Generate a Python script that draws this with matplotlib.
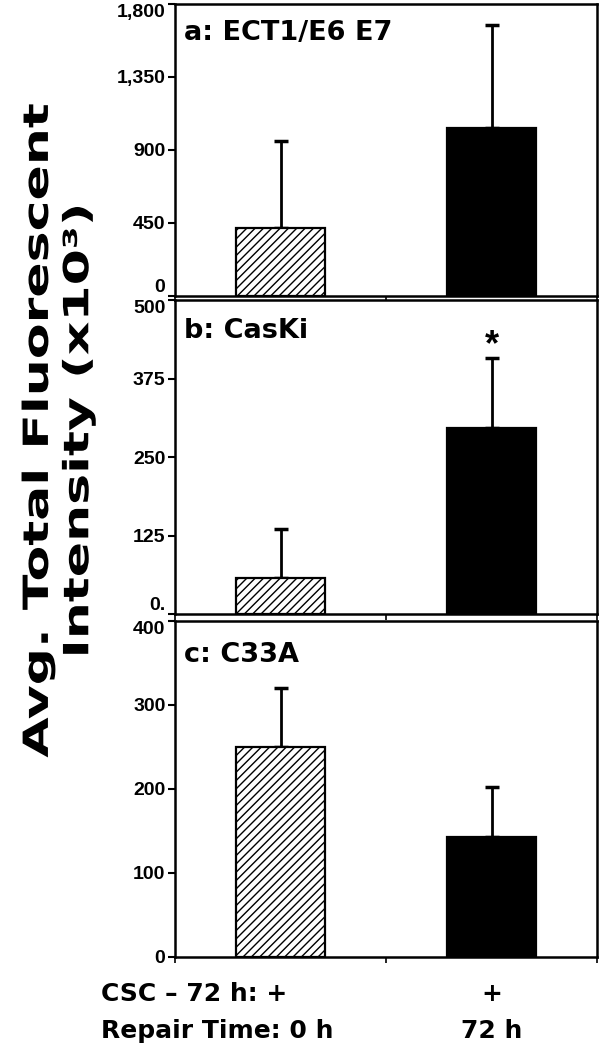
import numpy as np
import matplotlib
matplotlib.use("Agg")
import matplotlib.pyplot as plt
from matplotlib import patheffects
from matplotlib.transforms import Affine2D

# --- Data ---
panels = ["a: ECT1/E6 E7", "b: CasKi", "c: C33A"]
means_a = [420, 1035]          # 0 h, 72 h
errs_a = [535, 635]
means_b = [57, 297]
errs_b = [79, 111]
means_c = [250, 143]
errs_c = [70, 59]
yticks_a = [0, 450, 900, 1350, 1800]
ylabels_a = ["0", "450", "900", "1,350", "1,800"]
yticks_b = [0, 125, 250, 375, 500]
ylabels_b = ["0.", "125", "250", "375", "500"]
yticks_c = [0, 100, 200, 300, 400]
ylabels_c = ["0", "100", "200", "300", "400"]
csc_row = ["CSC \u2013 72 h: +", "+"]
repair_row = ["Repair Time: 0 h", "72 h"]


# stretch text along one display axis (the y-label font is a wide one)
class Stretch(patheffects.AbstractPathEffect):
    def __init__(self, cx, cy, sx, sy):
        super().__init__()
        self.tr = Affine2D().translate(-cx, -cy).scale(sx, sy).translate(cx, cy)

    def draw_path(self, renderer, gc, tpath, affine, rgbFace=None):
        renderer.draw_path(gc, tpath, affine + self.tr, rgbFace)


plt.rcParams['font.family'] = ['Liberation Sans', 'DejaVu Sans']
plt.rcParams['font.weight'] = 'bold'
plt.rcParams['hatch.linewidth'] = 1.0

W, H = 602, 1050
fig = plt.figure(figsize=(W / 100, H / 100), dpi=100)
left, width = 0.291, 0.701
boxes = [(0.7181, 0.2781), (0.4152, 0.2990), (0.0886, 0.3200)]
means = [means_a, means_b, means_c]
errs = [errs_a, errs_b, errs_c]
ticks = [yticks_a, yticks_b, yticks_c]
tlabels = [ylabels_a, ylabels_b, ylabels_c]

x = np.arange(2)
axes = []
for i in range(3):
    ax = fig.add_axes([left, boxes[i][0], width, boxes[i][1]])
    ax.bar(x, means[i], width=0.42, color=['white', 'black'], edgecolor='black',
           linewidth=1.6, hatch=['////', None], zorder=2)
    ax.errorbar(x, means[i], yerr=[[0, 0], errs[i]], fmt='none', ecolor='black',
                elinewidth=2, capsize=5, capthick=2.5, zorder=1)
    ax.set_xlim(-0.5, 1.5)
    ax.set_ylim(ticks[i][0], ticks[i][-1])
    ax.set_yticks(ticks[i])
    labs = ax.set_yticklabels(tlabels[i], fontsize=14, fontweight='bold')
    if i < 2:
        labs[0].set_va('bottom')
    labs[-1].set_va('top')
    ax.set_xticks([-0.5, 0.5, 1.5])
    ax.set_xticklabels([])
    ax.tick_params(axis='y', direction='out', length=5, width=1.5, pad=2)
    ax.tick_params(axis='x', direction='out', length=4, width=1.2)
    for s in ax.spines.values():
        s.set_linewidth(1.8)
    ax.text(0.02, 0.90, panels[i], transform=ax.transAxes, fontsize=19.5,
            fontweight='bold', va='center', ha='left', family='DejaVu Sans')
    axes.append(ax)

# significance marker on CasKi 72 h
axes[1].text(1, means_b[1] + errs_b[1] + 20, "*", ha='center', va='center',
             fontsize=26, fontweight='bold')

# y label, two lines
ycen = 0.59
for xf, s in [(0.063, "Avg. Total Fluorescent"), (0.13, "Intensity (x10\u00b3)")]:
    t = fig.text(xf, ycen, s, rotation=90, ha='center', va='center',
                 fontsize=25, fontweight='bold', family='DejaVu Sans')
    t.set_path_effects([Stretch(xf * W, ycen * H, 1.0, 1.5)])

# x condition rows
ax = axes[2]
xt = ax.get_xaxis_transform()
ax.text(-0.85, -0.11, csc_row[0], transform=xt, ha='left', va='center',
        fontsize=18, fontweight='bold', family='DejaVu Sans')
ax.text(1, -0.11, csc_row[1], transform=xt, ha='center', va='center',
        fontsize=18, fontweight='bold', family='DejaVu Sans')
ax.text(-0.85, -0.22, repair_row[0], transform=xt, ha='left', va='center',
        fontsize=18, fontweight='bold', family='DejaVu Sans')
ax.text(1, -0.22, repair_row[1], transform=xt, ha='center', va='center',
        fontsize=18, fontweight='bold', family='DejaVu Sans')

fig.savefig("out.png", dpi=100)
